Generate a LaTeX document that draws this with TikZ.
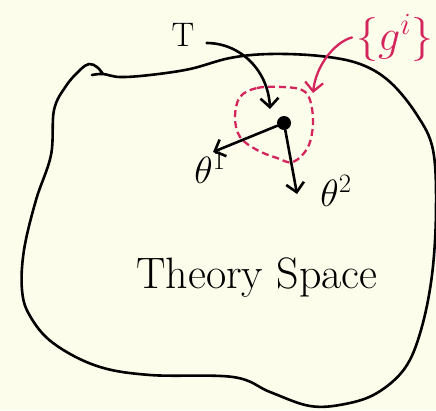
\RequirePackage{fix-cm}
\documentclass[tikz,border=0pt]{standalone}
\usetikzlibrary{arrows.meta}
\definecolor{bgcream}{RGB}{253,253,236}
\definecolor{inkred}{RGB}{212,36,92}
\begin{document}
\begin{tikzpicture}[x=1pt,y=-1pt,
  ink/.style={line width=2.6pt,line cap=round,line join=round},
  arr/.style={ink,-{Straight Barb[length=9pt,width=18pt]}},
  rarr/.style={ink,inkred,line width=2.3pt,-{Straight Barb[length=9pt,width=18pt]}},
  lab/.style={inner sep=0pt}]
\useasboundingbox (0,0) rectangle (436,410);
\fill[bgcream] (0,0) rectangle (436,410);
% theory space blob
\draw[ink] plot[smooth, tension=0.6] coordinates {(92,75) (103,74) (120,77) (150,75) (190,69) (230,58) (270,54) (320,56) (360,64) (390,82) (417,115) (433,150) (436,210) (432,275) (421,330) (405,368) (377,393) (345,404) (310,406) (270,392) (233,377) (150,375) (97,366) (53,343) (30,316) (22,290) (24,250) (36,200) (51,155) (54,110) (66,86) (80,70) (89,64) (97,67) (103,74)};
% labels
\node[lab,font=\fontsize{34}{34}\selectfont] (T) at (183,35) {T};
\node[lab,anchor=base west,text=inkred,font=\fontsize{44}{44}\selectfont] (g) at (356,50) {$\{g^i\}$};
\node[lab,font=\fontsize{38}{38}\selectfont] (th1) at (210,168) {$\theta^1$};
\node[lab,font=\fontsize{38}{38}\selectfont] (th2) at (336,191) {$\theta^2$};
\node[lab,anchor=base,font=\fontsize{44}{44}\selectfont] (ts) at (257,288) {Theory Space};
% point
\node[circle,fill=black,inner sep=0pt,minimum size=14pt] (dot) at (284,123) {};
% dashed neighbourhood
\draw[inkred,line width=2.3pt,dash pattern=on 7pt off 4pt] plot[smooth cycle, tension=0.6] coordinates {(240,97) (257,88) (283,87) (302,90) (310,100) (313,123) (308,147) (293,162) (277,158) (257,150) (240,137) (235,117)};
% arrows
\coordinate (t1) at (213,152);
\coordinate (t2) at (297,194);
\draw[arr] (dot) -- (t1);
\draw[arr] (dot) -- (t2);
\draw[arr] ([xshift=12pt,yshift=-8pt]T.east) .. controls (240,43) and (268,70) .. ([shift={(-14,-14)}]dot.center);
\coordinate (gt) at (313,93);
\draw[rarr] ([xshift=-4pt]g.west) .. controls (335,42) and (316,65) .. (gt);
\end{tikzpicture}
\end{document}
